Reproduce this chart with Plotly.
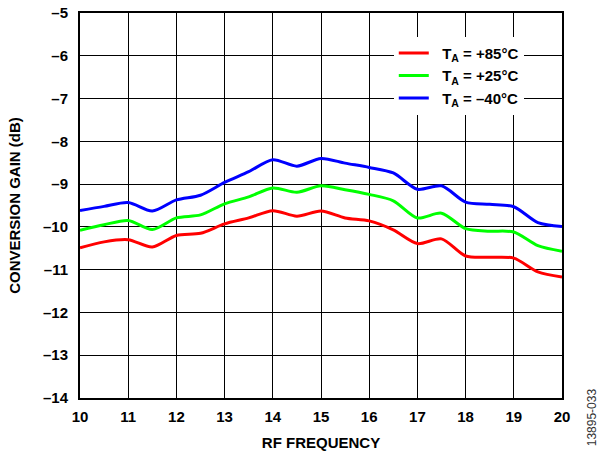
import plotly.graph_objects as go

freq = [10, 10.5, 11, 11.5, 12, 12.5, 13, 13.5, 14, 14.5, 15, 15.5, 16, 16.5, 17, 17.5, 18, 18.5, 19, 19.5, 20]
gain_85 = [-10.49, -10.35, -10.30, -10.47, -10.20, -10.15, -9.93, -9.79, -9.62, -9.75, -9.63, -9.79, -9.86, -10.07, -10.39, -10.28, -10.68, -10.71, -10.73, -11.05, -11.17]
gain_25 = [-10.08, -9.95, -9.85, -10.06, -9.79, -9.72, -9.46, -9.30, -9.09, -9.19, -9.04, -9.13, -9.24, -9.39, -9.79, -9.68, -10.04, -10.10, -10.12, -10.44, -10.57]
gain_m40 = [-9.62, -9.52, -9.43, -9.63, -9.37, -9.26, -8.96, -8.71, -8.43, -8.58, -8.40, -8.51, -8.61, -8.74, -9.12, -9.04, -9.42, -9.47, -9.53, -9.90, -9.99]

series_names = ["&nbsp;&nbsp;<b>T<sub>A</sub> = +85°C</b>", "&nbsp;&nbsp;<b>T<sub>A</sub> = +25°C</b>", "&nbsp;&nbsp;<b>T<sub>A</sub> = –40°C</b>"]
series_colors = ["#FF0000", "#00FF00", "#0000FF"]

x_ticks = [10, 11, 12, 13, 14, 15, 16, 17, 18, 19, 20]
x_ticktext = ["<b>%d</b>" % v for v in x_ticks]
y_ticks = [-5, -6, -7, -8, -9, -10, -11, -12, -13, -14]
y_ticktext = ["<b>–5</b>", "<b>–6</b>", "<b>–7</b>", "<b>–8</b>", "<b>–9</b>", "<b>–10</b>",
              "<b>–11</b>", "<b>–12</b>", "<b>–13</b>", "<b>–14</b>"]

FONT = "Liberation Sans, Arial, sans-serif"

fig = go.Figure()
for name, ys, col in zip(series_names, [gain_85, gain_25, gain_m40], series_colors):
    fig.add_trace(go.Scatter(x=freq, y=ys, mode="lines", name=name,
                             line=dict(color=col, width=3, shape="spline", smoothing=0.8)))

axis_common = dict(showgrid=True, gridcolor="#000000", gridwidth=1,
                   showline=True, linecolor="#000000", linewidth=2, mirror=True,
                   ticks="", zeroline=False, automargin=False,
                   tickfont=dict(family=FONT, size=15, color="#000000"))

fig.update_xaxes(range=[10, 20], tickvals=x_ticks, ticktext=x_ticktext, ticklabelstandoff=4,
                 title=dict(text="<b>RF FREQUENCY</b>", font=dict(family=FONT, size=15, color="#000000"), standoff=13),
                 **axis_common)
fig.update_yaxes(range=[-14, -5], tickvals=y_ticks, ticktext=y_ticktext, ticklabelstandoff=7,
                 title=dict(text="<b>CONVERSION GAIN (dB)</b>", font=dict(family=FONT, size=15, color="#000000"), standoff=19),
                 **axis_common)

fig.update_layout(
    width=598, height=452,
    margin=dict(l=80, r=36, t=13, b=54),
    plot_bgcolor="white", paper_bgcolor="white",
    showlegend=True,
    legend=dict(x=0.651, y=0.938, xanchor="left", yanchor="top",
                bgcolor="white", borderwidth=0,
                font=dict(family=FONT, size=15, color="#000000"),
                itemwidth=30, tracegroupgap=0),
    annotations=[dict(text="13895-033", x=1.0, xref="paper", xshift=30, y=-0.05, yref="paper",
                      yanchor="middle", xanchor="center", textangle=-90, showarrow=False,
                      font=dict(family="Liberation Sans Narrow, Liberation Sans, Arial, sans-serif", size=12, color="#333333"))],
)

fig.write_html("out.html", config={"displayModeBar": False},
               post_script="document.body.style.margin='0';document.body.style.overflow='hidden';")
